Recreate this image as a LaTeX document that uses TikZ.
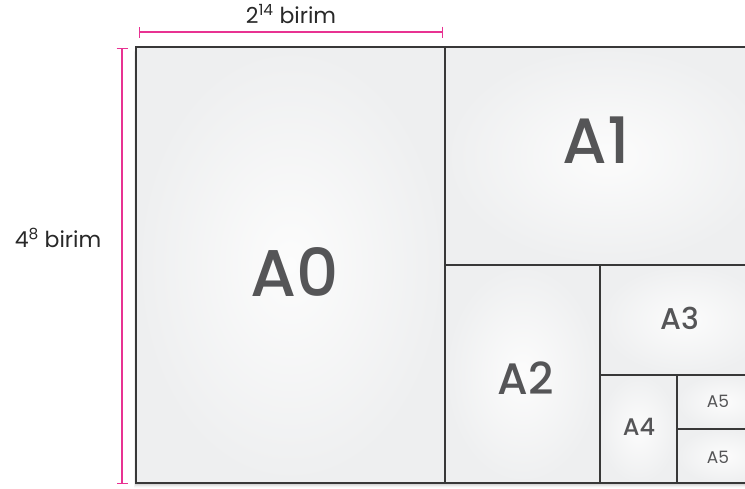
\documentclass[tikz,border=0pt]{standalone}
\usepackage{fontspec}
\setmainfont{Poppins}
\newfontfamily\labfont{Poppins Medium}
\usetikzlibrary{arrows.meta}
\definecolor{dimc}{RGB}{232,50,146}
\definecolor{labc}{RGB}{85,85,87}
\definecolor{txtc}{RGB}{40,40,40}
\definecolor{pin}{RGB}{252,252,252}
\definecolor{pout}{RGB}{238,239,240}
\tikzset{
  paper/.style={draw=black!78, line width=1.1pt, inner color=pin, outer color=pout},
  lab/.style={text=labc, font=\labfont, inner sep=0pt},
  dimline/.style={draw=dimc, line width=1.3pt, {Bar[width=11pt,line width=1.3pt]}-{Bar[width=11pt,line width=1.3pt]}},
  dimtext/.style={text=txtc, font=\fontsize{22}{26}\selectfont, inner sep=0pt}
}
\begin{document}
\begin{tikzpicture}[x=1pt,y=-1pt]
\useasboundingbox (0,0) rectangle (745,488);
\clip (0,0) rectangle (745,488);
% soft shadow
\foreach \i/\o in {1/0.10,2/0.07,3/0.05,4/0.03,5/0.02}
  \fill[black,opacity=\o] (136-\i*0.5,47+\i) rectangle (770,483+\i);
% sheets
\path[paper] (136,47) rectangle (445,483);
\path[paper] (445,47) rectangle (770,265);
\path[paper] (445,265) rectangle (600,483);
\path[paper] (600,265) rectangle (770,375);
\path[paper] (600,375) rectangle (677,483);
\path[paper] (677,375) rectangle (770,429);
\path[paper] (677,429) rectangle (770,483);
% labels
\node[lab, font=\labfont\fontsize{66}{70}\selectfont] (a0) at (295,272) {A0};
\node[lab, font=\labfont\fontsize{64}{70}\selectfont] (a1) at (596,140) {A1};
\node[lab, font=\labfont\fontsize{44}{50}\selectfont] (a2) at (526,378) {A2};
\node[lab, font=\labfont\fontsize{30}{34}\selectfont] (a3) at (680,318) {A3};
\node[lab, font=\labfont\fontsize{24}{28}\selectfont] (a4) at (639,427) {A4};
\node[lab, font=\fontsize{17}{20}\selectfont] (a5a) at (718,401) {A5};
\node[lab, font=\fontsize{17}{20}\selectfont] (a5b) at (718,457) {A5};
% dimensions
\coordinate (hl) at (139,32);
\coordinate (hr) at (443,32);
\coordinate (vt) at (122,48);
\coordinate (vb) at (122,484);
\draw[dimline] (hl) -- (hr);
\draw[dimline] (vt) -- (vb);
\node[dimtext] (wtxt) at (291,14) {2\textsuperscript{14} birim};
\node[dimtext] (htxt) at (58,238) {4\textsuperscript{8} birim};
\end{tikzpicture}
\end{document}
